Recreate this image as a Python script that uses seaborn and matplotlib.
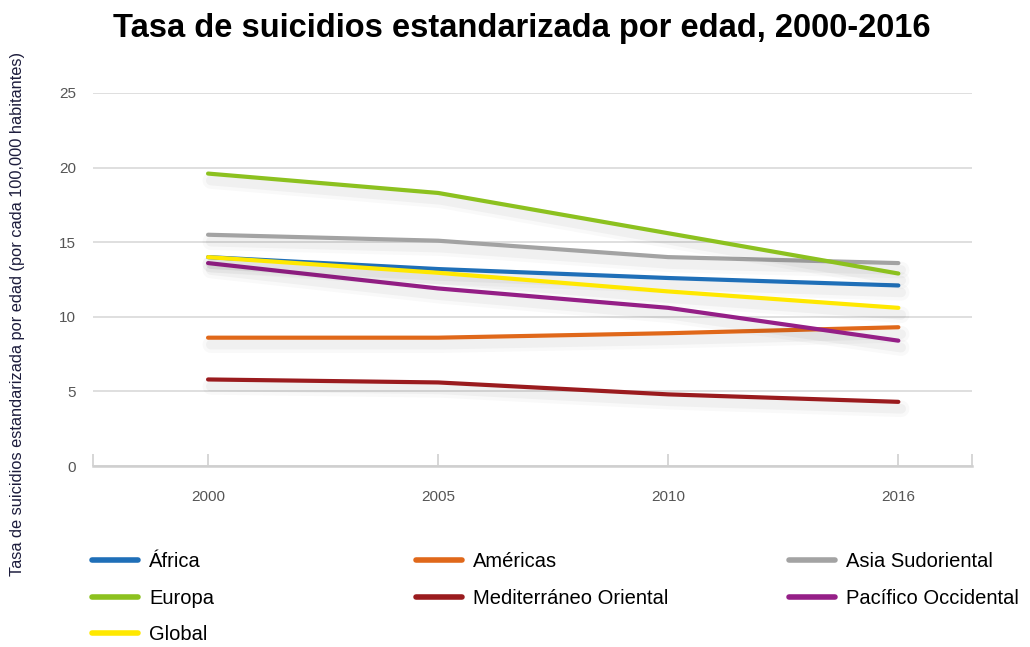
import matplotlib
matplotlib.use("Agg")
import matplotlib.pyplot as plt
import matplotlib.patheffects as pe
from matplotlib.lines import Line2D
import seaborn as sns
import pandas as pd

years = ["2000", "2005", "2010", "2016"]
africa = [14.0, 13.2, 12.6, 12.1]
americas = [8.6, 8.6, 8.9, 9.3]
asia_sud = [15.5, 15.1, 14.0, 13.6]
europa = [19.6, 18.3, 15.6, 12.9]
mediterraneo = [5.8, 5.6, 4.8, 4.3]
pacifico = [13.6, 11.9, 10.6, 8.4]
global_ = [14.0, 12.95, 11.7, 10.6]

series_names = ["África", "Américas", "Asia Sudoriental", "Europa",
                "Mediterráneo Oriental", "Pacífico Occidental", "Global"]
series_values = [africa, americas, asia_sud, europa, mediterraneo, pacifico, global_]
colors = ["#1F6FB8", "#E0681A", "#A3A3A3", "#8CC11F", "#9A1B1E", "#951F87", "#FFE800"]

rows = []
for name, vals in zip(series_names, series_values):
    for y, v in zip(years, vals):
        rows.append({"Año": y, "Tasa": v, "Región": name})
df = pd.DataFrame(rows)

sns.set_theme(style="white")
plt.rcParams["font.family"] = ["Liberation Sans", "DejaVu Sans"]

fig = plt.figure(figsize=(10.30, 6.47), dpi=100)
ax = fig.add_axes([93 / 1030, 1 - 466 / 647, (972 - 93) / 1030, (466 - 93) / 647])

palette = dict(zip(series_names, colors))
sns.lineplot(data=df, x="Año", y="Tasa", hue="Región", palette=palette,
             linewidth=3.0, ax=ax, legend=False, sort=False)

shadow = [pe.SimpleLineShadow(offset=(2, -5), shadow_color="black", alpha=0.025, linewidth=12),
          pe.SimpleLineShadow(offset=(2, -5), shadow_color="black", alpha=0.035, linewidth=7),
          pe.Normal()]
for ln in ax.get_lines():
    ln.set_path_effects(shadow)
    ln.set_solid_capstyle("round")

ax.set_xlim(-0.5, 3.32)
ax.set_ylim(0, 25)
ax.set_yticks([0, 5, 10, 15, 20, 25])
ax.grid(axis="y", color="#d9d9d9", linewidth=1.2)
ax.grid(axis="x", visible=False)
for s in ["top", "right", "left"]:
    ax.spines[s].set_visible(False)
ax.spines["bottom"].set_color("#cfcfcf")
ax.spines["bottom"].set_linewidth(1.8)
ax.set_axisbelow(True)

ax.set_xticks([0, 1, 2, 3])
ax.set_xticklabels(years)
ax.set_xticks([-0.5, 3.32], minor=True)
ax.tick_params(axis="x", which="both", direction="in", length=9, width=1.2,
               color="#cfcfcf", pad=17, labelsize=11, labelcolor="#555555")
ax.tick_params(axis="x", which="major", bottom=True)
ax.tick_params(axis="x", which="minor", bottom=True)
ax.tick_params(axis="y", length=0, pad=12, labelsize=11, labelcolor="#555555")
ax.set_xlabel("")
ax.set_ylabel("")

fig.text(18 / 1030, 1 - 314 / 647,
         "Tasa de suicidios estandarizada por edad (por cada 100,000 habitantes)",
         rotation=90, ha="center", va="center", fontsize=11.8, color="#1c1c3c")

fig.text(522 / 1030, 1 - 29 / 647, "Tasa de suicidios estandarizada por edad, 2000-2016",
         ha="center", va="center", fontsize=23.5, fontweight="bold", color="black")

# legend in three columns
col_groups = [[0, 3, 6], [1, 4], [2, 5]]
col_x = [92, 416, 789]
for grp, cx in zip(col_groups, col_x):
    handles = [Line2D([], [], color=colors[i], linewidth=4, solid_capstyle="round") for i in grp]
    labels = [series_names[i] for i in grp]
    leg = fig.legend(handles, labels, loc="upper left",
                     bbox_to_anchor=(cx / 1030, 1 - 552 / 647),
                     frameon=False, fontsize=14.5, handlelength=2.3, handletextpad=0.55,
                     labelspacing=0.88, borderaxespad=0, borderpad=0)
    for t in leg.get_texts():
        t.set_color("black")

fig.savefig("out.png", dpi=100)
